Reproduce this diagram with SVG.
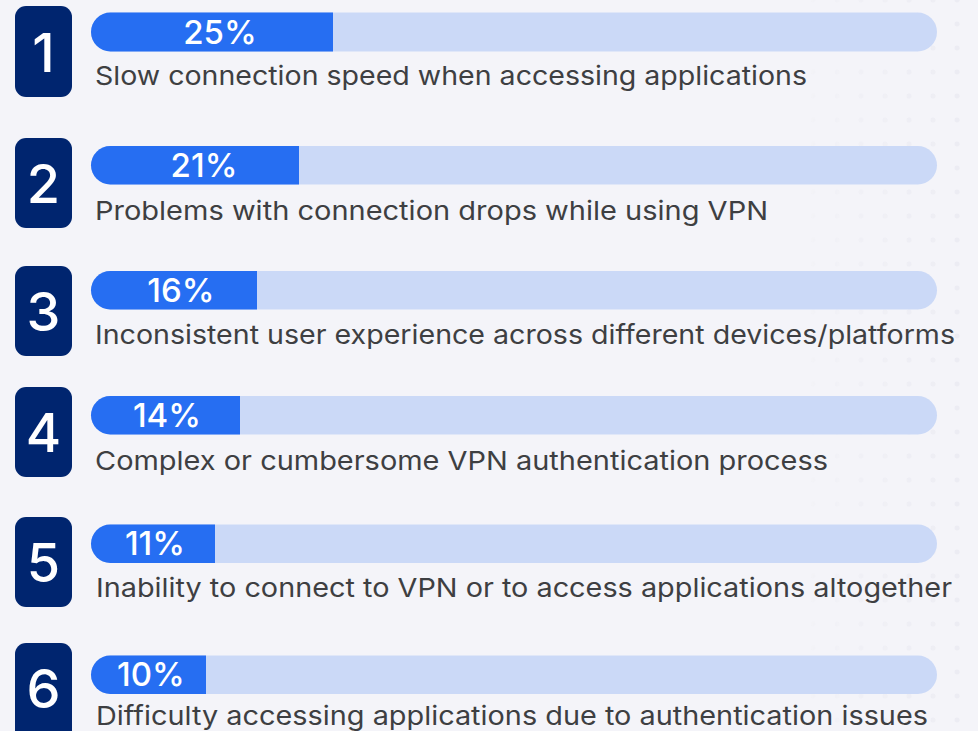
<svg xmlns="http://www.w3.org/2000/svg" width="978" height="731" viewBox="0 0 978 731">
<style>
.bg{fill:#f4f4f9}
.box{fill:#00256f}
.num{font-family:Inter,"Open Sans","Liberation Sans",sans-serif;font-size:54px;font-weight:500;fill:#ffffff;text-anchor:middle}
.track{fill:#cbd9f7}
.fill{fill:#266ef2}
.pct{font-family:Inter,"Open Sans","Liberation Sans",sans-serif;font-size:33px;font-weight:500;fill:#ffffff;text-anchor:middle}
.lbl{font-family:Inter,"Open Sans","Liberation Sans",sans-serif;font-size:26px;font-weight:400;fill:#3e3f42}
</style>
<defs>
<pattern id="dots" x="21" y="0" width="24" height="24" patternUnits="userSpaceOnUse">
<circle cx="0" cy="0" r="2.5" fill="#ebebf2"/>
<circle cx="24" cy="0" r="2.5" fill="#ebebf2"/>
<circle cx="0" cy="24" r="2.5" fill="#ebebf2"/>
<circle cx="24" cy="24" r="2.5" fill="#ebebf2"/>
</pattern>
<linearGradient id="fade" x1="0" y1="0" x2="1" y2="0">
<stop offset="0" stop-color="#fff" stop-opacity="0"/>
<stop offset="1" stop-color="#fff" stop-opacity="1"/>
</linearGradient>
<mask id="fm"><rect x="790" y="0" width="188" height="731" fill="url(#fade)"/></mask>
</defs>
<rect class="bg" x="0" y="0" width="978" height="731"/>
<rect x="790" y="0" width="188" height="731" fill="url(#dots)" mask="url(#fm)"/>

<g id="item1">
<rect class="box" x="15" y="6" width="57" height="91" rx="11"/>
<text class="num" x="43.5" y="72">1</text>
<rect class="track" x="91" y="12.5" width="846" height="39" rx="19.5"/>
<path class="fill" d="M110.5 12.5H333V51.5H110.5A19.5 19.5 0 0 1 110.5 12.5Z"/>
<text class="pct" x="220" y="43.5">25%</text>
<text class="lbl" x="95" y="85" textLength="712" lengthAdjust="spacingAndGlyphs">Slow connection speed when accessing applications</text>
</g>

<g id="item2">
<rect class="box" x="15" y="138" width="57" height="90" rx="11"/>
<text class="num" x="43.5" y="203">2</text>
<rect class="track" x="91" y="146" width="846" height="38.5" rx="19.25"/>
<path class="fill" d="M110.25 146H299V184.5H110.25A19.25 19.25 0 0 1 110.25 146Z"/>
<text class="pct" x="204" y="176.5">21%</text>
<text class="lbl" x="95" y="220" textLength="673" lengthAdjust="spacingAndGlyphs">Problems with connection drops while using VPN</text>
</g>

<g id="item3">
<rect class="box" x="15" y="266" width="57" height="90" rx="11"/>
<text class="num" x="43.5" y="331">3</text>
<rect class="track" x="91" y="271" width="846" height="38.5" rx="19.25"/>
<path class="fill" d="M110.25 271H257V309.5H110.25A19.25 19.25 0 0 1 110.25 271Z"/>
<text class="pct" x="181" y="301.5">16%</text>
<text class="lbl" x="95" y="344" textLength="860" lengthAdjust="spacingAndGlyphs">Inconsistent user experience across different devices/platforms</text>
</g>

<g id="item4">
<rect class="box" x="15" y="387" width="57" height="90" rx="11"/>
<text class="num" x="43.5" y="452">4</text>
<rect class="track" x="91" y="396" width="846" height="38.5" rx="19.25"/>
<path class="fill" d="M110.25 396H240V434.5H110.25A19.25 19.25 0 0 1 110.25 396Z"/>
<text class="pct" x="167" y="426.5">14%</text>
<text class="lbl" x="95" y="470" textLength="733" lengthAdjust="spacingAndGlyphs">Complex or cumbersome VPN authentication process</text>
</g>

<g id="item5">
<rect class="box" x="15" y="517" width="57" height="90" rx="11"/>
<text class="num" x="43.5" y="582">5</text>
<rect class="track" x="91" y="524.5" width="846" height="38.5" rx="19.25"/>
<path class="fill" d="M110.25 524.5H215V563H110.25A19.25 19.25 0 0 1 110.25 524.5Z"/>
<text class="pct" x="155" y="555">11%</text>
<text class="lbl" x="96" y="597" textLength="856" lengthAdjust="spacingAndGlyphs">Inability to connect to VPN or to access applications altogether</text>
</g>

<g id="item6">
<rect class="box" x="15" y="643" width="57" height="100" rx="11"/>
<text class="num" x="43.5" y="708">6</text>
<rect class="track" x="91" y="655.5" width="846" height="38.5" rx="19.25"/>
<path class="fill" d="M110.25 655.5H206V694H110.25A19.25 19.25 0 0 1 110.25 655.5Z"/>
<text class="pct" x="151" y="686">10%</text>
<text class="lbl" x="96" y="725" textLength="832" lengthAdjust="spacingAndGlyphs">Difficulty accessing applications due to authentication issues</text>
</g>

<g id="connectors"/>
</svg>
